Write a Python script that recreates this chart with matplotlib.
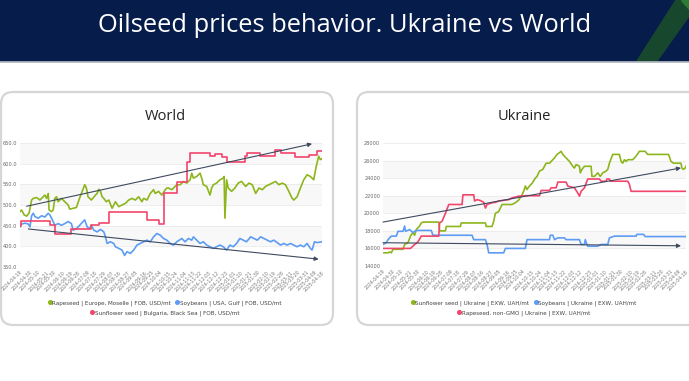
import matplotlib
matplotlib.use("Agg")
import matplotlib.pyplot as plt
import matplotlib.dates as mdates
import pandas as pd
from matplotlib.patches import FancyBboxPatch, Rectangle, Polygon
from matplotlib.lines import Line2D

# ---------------- DATA ----------------
title = "Oilseed prices behavior. Ukraine vs World"
panel_titles = ["World", "Ukraine"]

tick_labels = ["2024-04-19", "2024-04-30", "2024-05-10", "2024-05-21", "2024-05-30", "2024-06-10",
               "2024-06-19", "2024-06-28", "2024-07-09", "2024-07-18", "2024-07-29", "2024-08-07",
               "2024-08-16", "2024-08-27", "2024-09-05", "2024-09-16", "2024-09-25", "2024-10-04",
               "2024-10-15", "2024-10-24", "2024-11-04", "2024-11-13", "2024-11-22", "2024-12-03",
               "2024-12-12", "2024-12-23", "2025-01-01", "2025-01-10", "2025-01-21", "2025-01-30",
               "2025-02-10", "2025-02-19", "2025-02-28", "2025-03-11", "2025-03-20", "2025-03-31",
               "2025-04-09", "2025-04-18"]

world_names = ["Rapeseed | Europe, Moselle | FOB, USD/mt",
               "Soybeans | USA, Gulf | FOB, USD/mt",
               "Sunflower seed | Bulgaria, Black Sea | FOB, USD/mt"]
ukr_names = ["Sunflower seed | Ukraine | EXW, UAH/mt",
             "Soybeans | Ukraine | EXW, UAH/mt",
             "Rapeseed, non-GMO | Ukraine | EXW, UAH/mt"]

w_rape_dates = ["2024-04-19", "2024-04-21", "2024-04-24", "2024-04-27", "2024-04-30", "2024-05-03",
                "2024-05-05", "2024-05-09", "2024-05-13", "2024-05-17", "2024-05-19", "2024-05-21",
                "2024-05-23", "2024-05-24", "2024-05-27", "2024-05-29", "2024-05-31", "2024-06-02",
                "2024-06-04", "2024-06-08", "2024-06-12", "2024-06-16", "2024-06-18", "2024-06-22",
                "2024-06-26", "2024-06-29", "2024-07-02", "2024-07-06", "2024-07-08", "2024-07-10",
                "2024-07-14", "2024-07-19", "2024-07-21", "2024-07-23", "2024-07-25", "2024-07-27",
                "2024-07-29", "2024-08-01", "2024-08-04", "2024-08-08", "2024-08-12", "2024-08-16",
                "2024-08-20", "2024-08-24", "2024-08-28", "2024-09-01", "2024-09-05", "2024-09-09",
                "2024-09-13", "2024-09-15", "2024-09-19", "2024-09-23", "2024-09-27", "2024-09-29",
                "2024-10-03", "2024-10-07", "2024-10-11", "2024-10-13", "2024-10-15", "2024-10-19",
                "2024-10-21", "2024-10-25", "2024-10-29", "2024-11-02", "2024-11-06", "2024-11-10",
                "2024-11-12", "2024-11-14", "2024-11-18", "2024-11-22", "2024-11-24", "2024-11-26",
                "2024-11-30", "2024-12-04", "2024-12-06", "2024-12-08", "2024-12-12", "2024-12-16",
                "2024-12-20", "2024-12-21", "2024-12-22", "2024-12-24", "2024-12-26", "2024-12-30",
                "2025-01-03", "2025-01-07", "2025-01-11", "2025-01-16", "2025-01-20", "2025-01-24",
                "2025-01-28", "2025-02-01", "2025-02-05", "2025-02-09", "2025-02-13", "2025-02-17",
                "2025-02-21", "2025-02-25", "2025-03-01", "2025-03-05", "2025-03-09", "2025-03-13",
                "2025-03-15", "2025-03-19", "2025-03-23", "2025-03-27", "2025-03-31", "2025-04-04",
                "2025-04-08", "2025-04-11", "2025-04-14", "2025-04-16", "2025-04-18"]
w_rape_vals = [484, 488, 476, 473, 481, 512,
               516, 518, 512, 520, 524, 516,
               528, 488, 484, 488, 516, 520,
               508, 516, 508, 500, 490, 492,
               494, 512, 528, 549, 541, 520,
               512, 524, 528, 538, 533, 520,
               516, 508, 512, 492, 508, 496,
               500, 504, 512, 516, 512, 520,
               508, 516, 512, 528, 537, 528,
               533, 524, 537, 541, 541, 537,
               541, 549, 549, 557, 553, 561,
               577, 565, 569, 577, 565, 549,
               545, 524, 541, 549, 553, 561,
               565, 569, 468, 561, 541, 533,
               541, 553, 557, 545, 553, 549,
               528, 541, 537, 545, 549, 553,
               557, 549, 553, 549, 533, 516,
               512, 520, 541, 561, 573, 569,
               561, 593, 618, 610, 612]

w_soy_dates = ["2024-04-19", "2024-04-21", "2024-04-25", "2024-04-29", "2024-05-01", "2024-05-03",
               "2024-05-05", "2024-05-07", "2024-05-11", "2024-05-15", "2024-05-19", "2024-05-23",
               "2024-05-25", "2024-05-28", "2024-05-31", "2024-06-04", "2024-06-08", "2024-06-12",
               "2024-06-16", "2024-06-20", "2024-06-22", "2024-06-26", "2024-06-30", "2024-07-04",
               "2024-07-06", "2024-07-09", "2024-07-12", "2024-07-14", "2024-07-17", "2024-07-21",
               "2024-07-25", "2024-07-29", "2024-07-31", "2024-08-02", "2024-08-06", "2024-08-10",
               "2024-08-12", "2024-08-16", "2024-08-20", "2024-08-23", "2024-08-26", "2024-08-30",
               "2024-09-03", "2024-09-07", "2024-09-11", "2024-09-15", "2024-09-19", "2024-09-23",
               "2024-09-27", "2024-10-01", "2024-10-05", "2024-10-09", "2024-10-13", "2024-10-17",
               "2024-10-21", "2024-10-25", "2024-10-31", "2024-11-04", "2024-11-08", "2024-11-12",
               "2024-11-14", "2024-11-18", "2024-11-22", "2024-11-26", "2024-11-30", "2024-12-04",
               "2024-12-08", "2024-12-12", "2024-12-16", "2024-12-20", "2024-12-24", "2024-12-28",
               "2025-01-01", "2025-01-05", "2025-01-09", "2025-01-13", "2025-01-17", "2025-01-22",
               "2025-01-26", "2025-01-30", "2025-02-03", "2025-02-07", "2025-02-11", "2025-02-15",
               "2025-02-19", "2025-02-23", "2025-02-27", "2025-03-03", "2025-03-07", "2025-03-11",
               "2025-03-15", "2025-03-19", "2025-03-23", "2025-03-27", "2025-03-31", "2025-04-04",
               "2025-04-06", "2025-04-09", "2025-04-12", "2025-04-18"]
w_soy_vals = [447, 454, 456, 454, 447, 474,
              480, 472, 468, 474, 471, 480,
              476, 464, 451, 455, 451, 455,
              460, 455, 439, 443, 451, 460,
              464, 447, 443, 451, 439, 435,
              441, 435, 423, 407, 411, 407,
              399, 395, 391, 378, 387, 383,
              391, 403, 407, 411, 415, 411,
              423, 431, 427, 419, 415, 407,
              403, 411, 419, 411, 419, 415,
              423, 415, 407, 411, 403, 399,
              395, 399, 403, 399, 391, 403,
              399, 407, 419, 415, 411, 423,
              419, 415, 423, 419, 415, 411,
              415, 409, 403, 407, 403, 407,
              403, 399, 403, 399, 407, 395,
              391, 411, 409, 411]

w_sun_dates = ["2024-04-19", "2024-04-20", "2024-05-25", "2024-05-31", "2024-06-20", "2024-07-13",
               "2024-07-23", "2024-08-04", "2024-09-19", "2024-10-04", "2024-10-09", "2024-10-25",
               "2024-11-06", "2024-11-10", "2024-12-04", "2024-12-10", "2024-12-18", "2024-12-24",
               "2025-01-15", "2025-01-18", "2025-02-02", "2025-02-20", "2025-02-28", "2025-03-17",
               "2025-04-02", "2025-04-12", "2025-04-18"]
w_sun_vals = [450, 462, 451, 431, 441, 451,
              457, 482, 463, 455, 530, 555,
              605, 626, 618, 624, 616, 605,
              618, 626, 619, 634, 626, 616,
              621, 630, 630]

u_sun_dates = ["2024-04-19", "2024-04-25", "2024-04-27", "2024-04-29", "2024-05-01", "2024-05-13",
               "2024-05-15", "2024-05-19", "2024-05-22", "2024-05-25", "2024-05-27", "2024-05-29",
               "2024-06-02", "2024-06-04", "2024-06-06", "2024-06-25", "2024-06-26", "2024-07-03",
               "2024-07-04", "2024-07-21", "2024-07-22", "2024-08-20", "2024-08-21", "2024-08-28",
               "2024-08-30", "2024-09-01", "2024-09-05", "2024-09-09", "2024-09-21", "2024-09-25",
               "2024-09-29", "2024-10-03", "2024-10-05", "2024-10-07", "2024-10-09", "2024-10-11",
               "2024-10-15", "2024-10-19", "2024-10-21", "2024-10-24", "2024-10-28", "2024-11-01",
               "2024-11-05", "2024-11-07", "2024-11-11", "2024-11-14", "2024-11-17", "2024-11-19",
               "2024-11-21", "2024-11-25", "2024-11-29", "2024-12-03", "2024-12-05", "2024-12-07",
               "2024-12-11", "2024-12-12", "2024-12-14", "2024-12-17", "2024-12-25", "2024-12-26",
               "2024-12-29", "2025-01-02", "2025-01-05", "2025-01-08", "2025-01-12", "2025-01-14",
               "2025-01-16", "2025-01-20", "2025-01-28", "2025-01-30", "2025-02-01", "2025-02-03",
               "2025-02-05", "2025-02-07", "2025-02-13", "2025-02-17", "2025-02-21", "2025-02-28",
               "2025-03-03", "2025-03-28", "2025-03-31", "2025-04-03", "2025-04-12", "2025-04-13",
               "2025-04-15", "2025-04-17", "2025-04-18"]
u_sun_vals = [15500, 15500, 15600, 15500, 15900, 15900,
              16450, 16650, 17400, 17800, 17500, 18150,
              18550, 18900, 19000, 19000, 18000, 18000,
              18500, 18500, 18900, 18900, 18500, 18500,
              19100, 20000, 20200, 21000, 21000, 21200,
              21500, 22100, 22500, 23100, 22700, 23000,
              23400, 24000, 24200, 24800, 25000, 25700,
              25700, 25900, 26300, 26700, 26900, 27050,
              26700, 26300, 25900, 25350, 25150, 25550,
              25350, 24600, 25000, 25350, 25350, 24200,
              24200, 24600, 24200, 24600, 24800, 25000,
              25700, 26700, 26700, 25900, 25700, 26100,
              25900, 26100, 26100, 26500, 27050, 27050,
              26700, 26700, 25900, 25700, 25700, 25150,
              25000, 25150, 25350]

u_soy_dates = ["2024-04-19", "2024-04-23", "2024-04-25", "2024-04-29", "2024-05-05", "2024-05-07",
               "2024-05-13", "2024-05-15", "2024-05-16", "2024-05-21", "2024-05-25", "2024-05-27",
               "2024-05-29", "2024-06-16", "2024-06-18", "2024-08-04", "2024-08-06", "2024-08-20",
               "2024-08-22", "2024-08-24", "2024-09-11", "2024-09-13", "2024-10-07", "2024-10-09",
               "2024-11-05", "2024-11-06", "2024-11-09", "2024-11-11", "2024-11-15", "2024-11-23",
               "2024-11-25", "2024-12-11", "2024-12-13", "2024-12-17", "2024-12-18", "2024-12-20",
               "2024-12-21", "2025-01-02", "2025-01-06", "2025-01-14", "2025-01-16", "2025-01-22",
               "2025-02-17", "2025-02-18", "2025-02-26", "2025-02-28", "2025-04-18"]
u_soy_vals = [16450, 16650, 17000, 17400, 17400, 17950,
              17950, 18550, 17950, 18150, 17800, 17950,
              18050, 18050, 17500, 17500, 17000, 17000,
              16450, 15500, 15500, 16000, 16000, 17000,
              17000, 17500, 17500, 17000, 17200, 17200,
              17000, 17000, 16450, 16450, 17000, 16450,
              16250, 16250, 16450, 16450, 17200, 17400,
              17400, 17600, 17600, 17350, 17350]

u_rape_dates = ["2024-04-19", "2024-05-22", "2024-05-27", "2024-05-31", "2024-06-04", "2024-06-25",
                "2024-06-26", "2024-06-29", "2024-07-03", "2024-07-07", "2024-07-23", "2024-07-24",
                "2024-08-06", "2024-08-07", "2024-08-10", "2024-08-14", "2024-08-18", "2024-08-20",
                "2024-08-22", "2024-08-28", "2024-09-01", "2024-09-05", "2024-09-09", "2024-09-17",
                "2024-09-21", "2024-09-29", "2024-10-07", "2024-10-24", "2024-10-26", "2024-11-05",
                "2024-11-07", "2024-11-13", "2024-11-15", "2024-11-25", "2024-11-27", "2024-12-05",
                "2024-12-09", "2024-12-11", "2024-12-13", "2024-12-17", "2024-12-21", "2025-01-04",
                "2025-01-06", "2025-01-12", "2025-01-13", "2025-01-16", "2025-01-17", "2025-02-07",
                "2025-02-09", "2025-02-11", "2025-04-18"]
u_rape_vals = [16000, 16000, 16450, 16750, 17400, 17400,
               18900, 19100, 20000, 21000, 21000, 22100,
               22100, 21400, 21550, 21450, 21250, 20600,
               21000, 21200, 21250, 21400, 21450, 21550,
               21750, 21950, 22000, 22000, 22600, 22600,
               22900, 22900, 23550, 23550, 23100, 22900,
               22300, 21950, 22500, 22900, 23900, 23900,
               23650, 23650, 23900, 23900, 23650, 23650,
               23300, 22500, 22500]

# trend arrows (start date, end date, start value, end value)
w_arrow_up = (["2024-04-27", "2025-04-06"], [497, 648])
w_arrow_dn = (["2024-04-29", "2025-04-14"], [442, 369])
u_arrow_up = (["2024-04-19", "2025-04-12"], [19000, 25160])
u_arrow_dn = (["2024-04-19", "2025-04-12"], [16650, 16300])

w_yticks = [350, 400, 450, 500, 550, 600, 650]
u_yticks = [14000, 16000, 18000, 20000, 22000, 24000, 26000, 28000]

# ---------------- STYLE ----------------
GREEN = "#8db51c"
BLUE = "#5d9cf2"
PINK = "#f2456b"
ARROW = "#3e4a5f"
NAVY = "#061c4b"

W, H = 689, 381
fig = plt.figure(figsize=(W / 100, H / 100), dpi=100)
fig.patch.set_facecolor("white")

bg = fig.add_axes([0, 0, 1, 1])
bg.set_xlim(0, W)
bg.set_ylim(H, 0)
bg.axis("off")
bg.add_patch(Rectangle((0, 0), W, 61, color=NAVY, zorder=1))
bg.add_patch(Polygon([(637, 61), (657, 61), (689, 16), (689, 0), (676, 0)],
                     closed=True, color="#17472d", zorder=2))
bg.add_patch(Polygon([(681, 0), (689, 0), (689, 9)], closed=True, color="#2f7a34", zorder=2))
bg.plot([0, W], [61.5, 61.5], color="#b8bcc6", lw=1.2, zorder=2)
bg.text(345, 26, title, color="white", fontsize=18.4, ha="center", va="center",
        family=["Open Sans", "DejaVu Sans"], fontweight="normal", zorder=3)

for (x0, x1) in [(1, 333), (357, 700)]:
    bg.add_patch(FancyBboxPatch((x0, 92), x1 - x0, 233,
                                boxstyle="round,pad=0,rounding_size=12",
                                facecolor="white", edgecolor="#d6d6d6", lw=1.6, zorder=1))
bg.text(165, 117, panel_titles[0], fontsize=10.5, ha="center", va="center",
        color="#222222", family=["Open Sans", "DejaVu Sans"])
bg.text(524, 117, panel_titles[1], fontsize=10.5, ha="center", va="center",
        color="#222222", family=["Open Sans", "DejaVu Sans"])


def ax_at(x0, y0, x1, y1):
    return fig.add_axes([x0 / W, 1 - y1 / H, (x1 - x0) / W, (y1 - y0) / H])


def style_axis(ax, yticks, fmt):
    ax.set_facecolor("none")
    ax.set_xlim(pd.Timestamp(tick_labels[0]), pd.Timestamp(tick_labels[-1]))
    ax.set_ylim(yticks[0], yticks[-1])
    for i in range(len(yticks) - 1):
        if i % 2 == 1:
            ax.axhspan(yticks[i], yticks[i + 1], color="#f8f8f8", zorder=0, lw=0)
    for y in yticks:
        ax.axhline(y, color="#e8e8e8", lw=0.5, zorder=0.5)
    for s in ax.spines.values():
        s.set_visible(False)
    ax.set_yticks(yticks)
    ax.set_yticklabels([fmt(v) for v in yticks], fontsize=3.6, color="#666666")
    ax.set_xticks(pd.to_datetime(tick_labels))
    ax.set_xticklabels(tick_labels, rotation=45, ha="right", rotation_mode="anchor",
                       fontsize=3.3, color="#777777")
    ax.tick_params(length=0, pad=2)


def arrow(ax, a):
    d, v = a
    ax.annotate("", xy=(mdates.date2num(pd.Timestamp(d[1])), v[1]),
                xytext=(mdates.date2num(pd.Timestamp(d[0])), v[0]),
                arrowprops=dict(arrowstyle="-|>", color=ARROW, lw=0.8, mutation_scale=6,
                                shrinkA=0, shrinkB=0), zorder=5)


lw = 1.2
axL = ax_at(20, 143, 322, 267)
style_axis(axL, w_yticks, lambda v: f"{v:.1f}")
axL.plot(pd.to_datetime(w_rape_dates), w_rape_vals, color=GREEN, lw=lw, zorder=3)
axL.plot(pd.to_datetime(w_soy_dates), w_soy_vals, color=BLUE, lw=lw, zorder=3)
axL.plot(pd.to_datetime(w_sun_dates), w_sun_vals, color=PINK, lw=lw, zorder=3,
         drawstyle="steps-post")
arrow(axL, w_arrow_up)
arrow(axL, w_arrow_dn)

axR = ax_at(383, 143, 686, 266)
style_axis(axR, u_yticks, lambda v: f"{v:d}")
axR.plot(pd.to_datetime(u_sun_dates), u_sun_vals, color=GREEN, lw=lw, zorder=3)
axR.plot(pd.to_datetime(u_soy_dates), u_soy_vals, color=BLUE, lw=lw, zorder=3)
axR.plot(pd.to_datetime(u_rape_dates), u_rape_vals, color=PINK, lw=lw, zorder=3)
arrow(axR, u_arrow_up)
arrow(axR, u_arrow_dn)


def dot(c):
    return Line2D([], [], marker="o", color=c, ls="none", markersize=2.6)


leg_kw = dict(loc="center", frameon=False, fontsize=4.1, handlelength=0.5,
              handletextpad=0.2, columnspacing=0.8, labelcolor="#444444",
              borderpad=0, borderaxespad=0)
fig.legend([dot(GREEN), dot(BLUE)], world_names[:2], ncol=2,
           bbox_to_anchor=(165 / W, 1 - 303 / H), **leg_kw)
fig.legend([dot(PINK)], world_names[2:], ncol=1,
           bbox_to_anchor=(165 / W, 1 - 313 / H), **leg_kw)
fig.legend([dot(GREEN), dot(BLUE)], ukr_names[:2], ncol=2,
           bbox_to_anchor=(524 / W, 1 - 303 / H), **leg_kw)
fig.legend([dot(PINK)], ukr_names[2:], ncol=1,
           bbox_to_anchor=(524 / W, 1 - 313 / H), **leg_kw)

fig.savefig("out.png", dpi=100, facecolor="white")
